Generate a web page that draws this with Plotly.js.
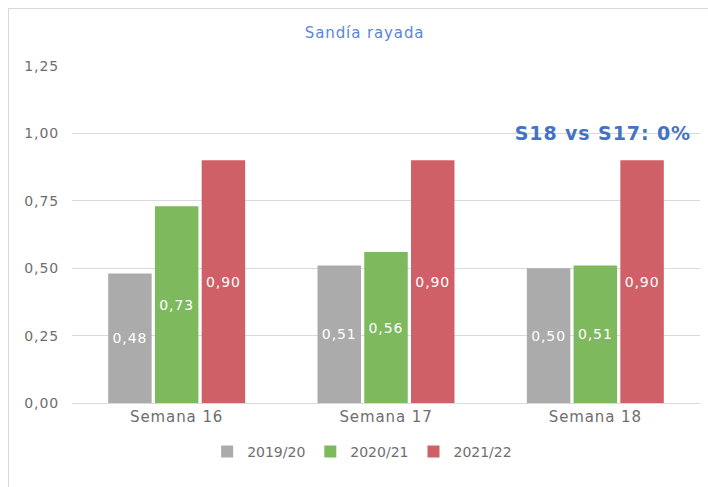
<!DOCTYPE html>
<html>
<head>
<meta charset="utf-8">
<script src="https://cdn.plot.ly/plotly-3.0.1.min.js"></script>
<style>
  html, body { margin: 0; padding: 0; background: #fff; }
  #frame { position: absolute; left: 8px; top: 8px; width: 760px; height: 540px; border-left: 1px solid #d9d9d9; border-top: 1px solid #d9d9d9; }
  #chart { position: absolute; left: 0; top: 0; width: 708px; height: 487px; }
  #chart svg text { letter-spacing: 0.9px; }
  #chart .legend text { letter-spacing: 0px; }
</style>
</head>
<body>
<div id="frame"></div>
<div id="chart"></div>
<script>
const categories = ["Semana 16", "Semana 17", "Semana 18"];
const seriesNames = ["2019/20", "2020/21", "2021/22"];
const v2019 = [0.48, 0.51, 0.50];
const v2020 = [0.73, 0.56, 0.51];
const v2021 = [0.90, 0.90, 0.90];
const yTickVals = [0, 0.25, 0.5, 0.75, 1.0, 1.25];
const yTickText = ["0,00", "0,25", "0,50", "0,75", "1,00", "1,25"];
const titleText = "Sandía rayada";
const noteText = "S18 vs S17: 0%";

const colors = ["#ababab", "#7fb95e", "#d06068"];
const FONT = "'DejaVu Sans', sans-serif";
const TXT = "#6e6e6e";
const fmt = v => v.toFixed(2).replace(".", ",");

const values = [v2019, v2020, v2021];
const traces = values.map((vals, i) => ({
  type: "bar",
  name: seriesNames[i],
  x: categories,
  y: vals,
  marker: { color: colors[i] },
  text: vals.map(fmt),
  textposition: "inside",
  insidetextanchor: "middle",
  textangle: 0,
  textfont: { color: "#ffffff", size: 14, family: FONT },
  hoverinfo: "skip"
}));

const layout = {
  width: 708, height: 487,
  margin: { l: 72, r: 8, t: 66, b: 84 },
  paper_bgcolor: "rgba(0,0,0,0)",
  plot_bgcolor: "rgba(0,0,0,0)",
  font: { family: FONT, color: TXT },
  title: { text: titleText, font: { size: 15, color: "#5b86d8", family: FONT }, x: 0.515, xanchor: "center", y: 0.932, yanchor: "middle", xref: "container", yref: "container" },
  barmode: "group",
  bargap: 0.33,
  bargroupgap: 0.07,
  xaxis: { tickfont: { size: 15, color: TXT }, showline: true, linecolor: "#d9d9d9", ticks: "", fixedrange: true },
  yaxis: { range: [0, 1.25], tickvals: yTickVals, ticktext: yTickText, tickfont: { size: 14, color: TXT }, gridcolor: "#d9d9d9", zeroline: false, ticks: "", ticklabelstandoff: 12, fixedrange: true },
  legend: { orientation: "h", x: 0.462, xanchor: "center", y: -0.145, yanchor: "middle", font: { size: 14, color: TXT }, traceorder: "normal", itemwidth: 30 },
  showlegend: true,
  annotations: [{ text: "<b>" + noteText + "</b>", xref: "paper", yref: "paper", x: 0.846, y: 0.8, xanchor: "center", yanchor: "middle", showarrow: false, font: { size: 19, color: "#4472c4", family: FONT } }]
};

Plotly.newPlot("chart", traces, layout, { displayModeBar: false, staticPlot: true });
</script>
</body>
</html>
